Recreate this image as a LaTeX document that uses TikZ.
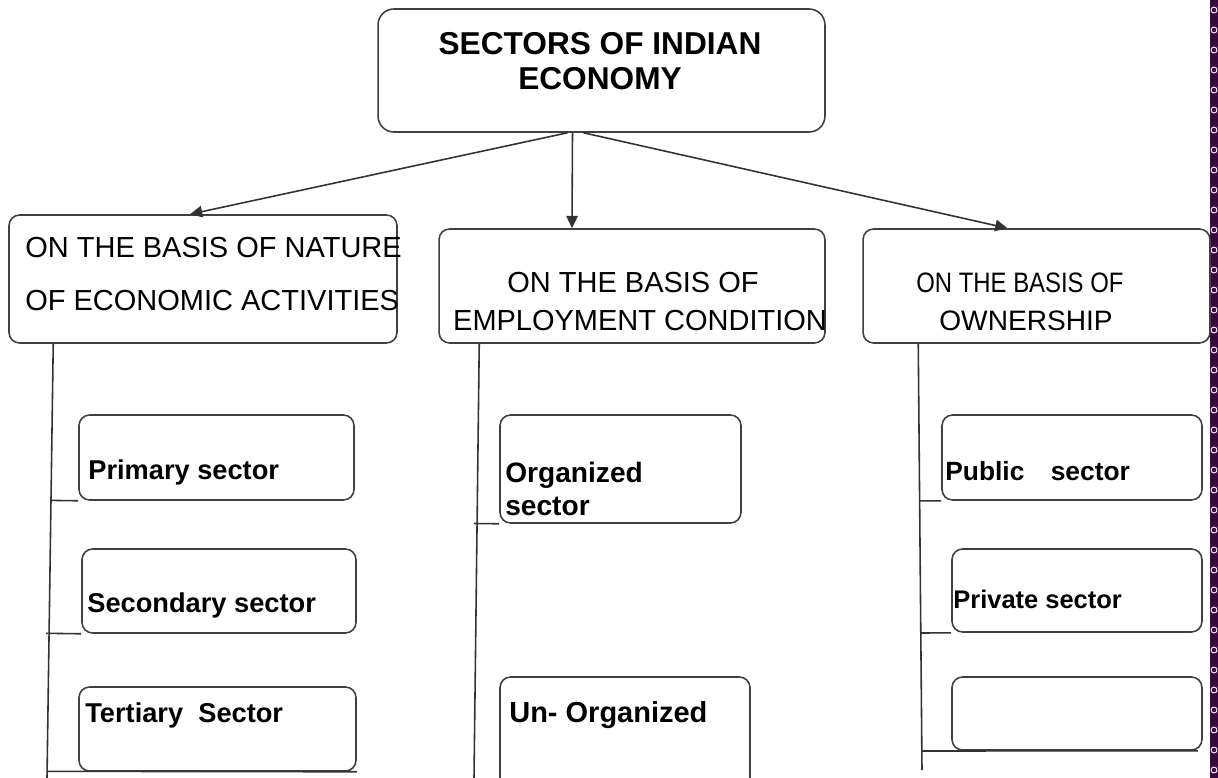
\documentclass[tikz,border=0pt]{standalone}
\usepackage{fontspec}
\setmainfont{Liberation Sans}
\newfontfamily\narrowfont[FakeStretch=0.85]{Liberation Sans}
\usepackage{tikz}
\usetikzlibrary{arrows.meta,calc,positioning}
\definecolor{brd}{RGB}{58,8,62}

\begin{document}
\begin{tikzpicture}[x=0.02cm, y=-0.02cm, >={Triangle[length=7pt,width=6.5pt]},
  sbox/.style={draw=black!75, line width=0.9pt, rounded corners=6pt, inner sep=0pt},
  conn/.style={draw=black!80, line width=0.9pt},
  hd/.style={anchor=base west, inner sep=0pt, font=\fontsize{16.5}{19}\selectfont},
  lbl/.style={anchor=base west, inner sep=0pt, font=\bfseries\fontsize{15.5}{18}\selectfont}]
\path[use as bounding box] (0,0) rectangle (1218,778);
% page border strip
\fill[brd] (1210,0) rectangle (1218,778);
\foreach \k in {0,...,38}
  \draw[white, line width=0.5pt] (1214,{10+20*\k}) circle [radius=1.7pt];
% boxes
\node[sbox, rounded corners=9pt, minimum width=8.94cm, minimum height=2.46cm] (title) at (601.5,70.5) {};
\node[sbox, minimum width=7.76cm, minimum height=2.56cm] (nat) at (203,279) {};
\node[sbox, minimum width=7.72cm, minimum height=2.28cm] (emp) at (632,286) {};
\node[sbox, minimum width=6.94cm, minimum height=2.28cm] (own) at (1036.5,286) {};
\node[sbox, minimum width=5.5cm, minimum height=1.7cm] (prim) at (216.5,457.5) {};
\node[sbox, minimum width=5.48cm, minimum height=1.68cm] (sec) at (219,591) {};
\node[sbox, minimum width=5.54cm, minimum height=1.68cm] (tert) at (217.5,729) {};
\node[sbox, minimum width=4.82cm, minimum height=2.16cm] (org) at (620.5,469) {};
\node[sbox, minimum width=5.0cm, minimum height=2.52cm] (unorg) at (625,740) {};
\node[sbox, minimum width=5.2cm, minimum height=1.7cm] (pub) at (1072,457.5) {};
\node[sbox, minimum width=5.0cm, minimum height=1.66cm] (priv) at (1077,590.5) {};
\node[sbox, minimum width=5.0cm, minimum height=1.46cm] (blank) at (1077,713.5) {};
% texts
\node[align=center, anchor=north, inner sep=0pt, font=\bfseries\fontsize{18}{20}\selectfont] (ttl) at (600,32) {SECTORS OF INDIAN\\ECONOMY};
\node[hd] (nat1) at (25,257) {ON THE BASIS OF NATURE};
\node[hd] (nat2) at (25,310) {OF ECONOMIC ACTIVITIES};
\node[hd, anchor=base] (emp1) at (633,292) {ON THE BASIS OF};
\node[hd, anchor=base] (emp2) at (640,330) {EMPLOYMENT CONDITION};
\node[hd, font=\narrowfont\fontsize{16}{19}\selectfont] (own1) at (916,292) {ON THE BASIS OF};
\node[hd, font=\fontsize{16}{19}\selectfont] (own2) at (939,330) {OWNERSHIP};
\node[lbl] (primt) at (88,479) {Primary sector};
\node[lbl] (sect) at (87,612) {Secondary sector};
\node[lbl] (tertt) at (85,722) {Tertiary~ Sector};
\node[lbl, anchor=north west, align=left, font=\bfseries\fontsize{16}{18.7}\selectfont] (orgt) at (505,462) {Organized\\sector};
\node[lbl, font=\bfseries\fontsize{16.5}{19}\selectfont] (unorgt) at (509,722) {Un- Organized};
\node[lbl, font=\bfseries\fontsize{15}{18}\selectfont] (pubt) at (945,480) {Public\quad sector};
\node[lbl, font=\bfseries\fontsize{14.5}{17}\selectfont] (privt) at (953,608) {Private sector};
% arrows from the title
\draw[conn, ->] ($(title.south)+(-34,0)$) -- ($(nat.north)+(-13,0)$);
\draw[conn, ->] ($(title.south)+(-29,0)$) -- ($(emp.north)+(-60,0)$);
\draw[conn, ->] ($(title.south)+(-18,0)$) -- ($(own.north)+(-29,0)$);
% trunks
\coordinate (nattop) at ($(nat.south west)+(45,0)$);
\coordinate (natbot) at (47,778);
\coordinate (emptop) at ($(emp.south west)+(41,0)$);
\coordinate (empbot) at (474,778);
\coordinate (owntop) at ($(own.south west)+(56,0)$);
\coordinate (ownbot) at (922,770);
\draw[conn] (nattop) -- (natbot);
\draw[conn] (emptop) -- (empbot);
\draw[conn] (owntop) -- (ownbot);
% branches
\draw[conn] ($(nattop)!(prim.south west)!(natbot)$) -- (prim.south west);
\draw[conn] ($(nattop)!(sec.south west)!(natbot)+(-3,0)$) -- (sec.south west);
\draw[conn] ($(nattop)!(tert.south west)!(natbot)$) -- (tert.south east);
\draw[conn] ($(emptop)!(org.south west)!(empbot)+(-3,0)$) -- (org.south west);
\draw[conn] ($(owntop)!(pub.south west)!(ownbot)$) -- (pub.south west);
\draw[conn] ($(owntop)!(priv.south west)!(ownbot)$) -- (priv.south west);
\draw[conn] ($(owntop)!(blank.south west)!(ownbot)$) -- ($(blank.south east)+(-5,0)$);
\end{tikzpicture}
\end{document}
